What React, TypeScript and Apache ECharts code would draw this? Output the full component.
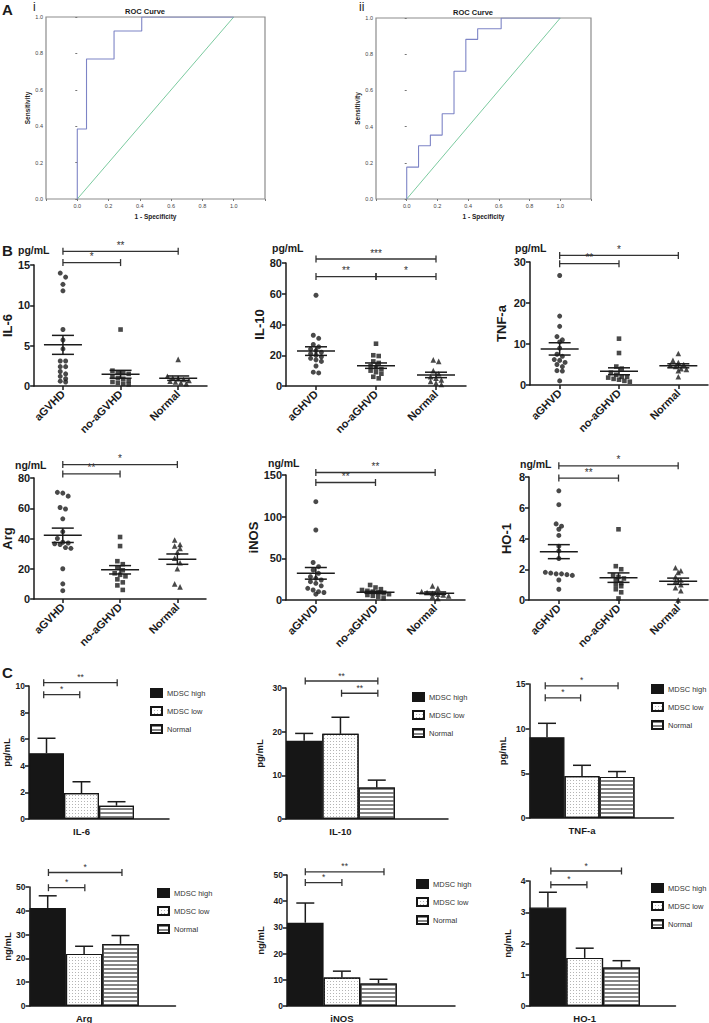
import { useEffect, useRef } from "react";
import * as echarts from "echarts";

// ---------- A: ROC curves ----------
const rocCurveI = [[0, 0], [0, 0.385], [0.059, 0.385], [0.059, 0.769], [0.235, 0.769], [0.235, 0.923], [0.412, 0.923], [0.412, 1], [1, 1]];
const rocCurveII = [[0, 0], [0, 0.176], [0.077, 0.176], [0.077, 0.294], [0.154, 0.294], [0.154, 0.353], [0.231, 0.353], [0.231, 0.471], [0.308, 0.471], [0.308, 0.706], [0.385, 0.706], [0.385, 0.882], [0.462, 0.882], [0.462, 0.941], [0.615, 0.941], [0.615, 1], [1, 1]];
const rocDiagonal = [[0, 0], [1, 1]];

// ---------- B: scatter (mean ± SEM) ----------
const catsIL6 = ["aGVHD", "no-aGVHD", "Normal"];
const catsIL10 = ["aGHVD", "no-aGHVD", "Normal"];
const catsTNF = ["aGHVD", "no-aGHVD", "Normal"];
const catsArg = ["aGVHD", "no-aGHVD", "Normal"];
const catsINOS = ["aGHVD", "no-aGHVD", "Normal"];
const catsHO1 = ["aGHVD", "no-aGHVD", "Normal"];

const il6A = [14, 13.5, 12.6, 11.8, 7, 5.7, 4.6, 3.1, 3.1, 2.4, 2.4, 1.8, 1.5, 1.2, 0.9, 0.6, 0.5];
const il6B = [7.0, 1.9, 1.7, 1.6, 1.5, 1.2, 1.0, 0.9, 0.7, 0.5, 0.4, 0.3, 0.2];
const il6N = [3.3, 1.2, 1.0, 0.9, 0.8, 0.7, 0.6, 0.5, 0.4, 0.3];

const il10A = [59, 33, 31, 27, 25.5, 24, 23, 22, 21, 20, 19, 18, 17, 16, 13, 9, 8.5];
const il10B = [27.5, 20, 19.5, 16, 15, 13, 12, 11, 10, 9, 8, 6, 5];
const il10N = [17, 16, 10, 8, 6, 5, 4, 3, 2, 1];

const tnfA = [26.7, 16.8, 14.3, 11.8, 11.0, 10.5, 9.0, 7.5, 7.0, 6.2, 6.0, 5.5, 5.0, 4.5, 3.5, 3.4, 1.0];
const tnfB = [11.3, 7.8, 4.5, 4.0, 3.0, 2.5, 2.0, 2.0, 1.8, 1.5, 1.3, 1.0, 0.8];
const tnfN = [7.7, 6.0, 5.5, 5.0, 4.8, 4.5, 4.0, 3.8, 3.5, 2.0];

const argA = [70.5, 70, 68, 60.5, 59.5, 53, 44.5, 40, 37.5, 37, 36.5, 36, 34, 33.5, 20, 10, 5.5];
const argB = [41, 35, 25, 23, 21, 19, 17, 16, 15, 13, 11, 9, 6];
const argN = [39, 36, 35, 33.5, 31, 27, 24, 20, 10, 8];

const inosA = [118, 84, 45, 40, 36, 32, 28, 26, 24, 22, 20, 17, 14, 12, 10, 9, 7];
const inosB = [18, 15, 13, 12, 11, 10, 9, 8, 7, 6, 5, 4, 2];
const inosN = [17, 14, 10, 9, 8, 7, 6, 5, 4, 2];

const ho1A = [7.1, 6.2, 4.95, 4.8, 4.6, 4.2, 3.5, 3.2, 2.7, 1.8, 1.75, 1.7, 1.7, 1.65, 1.6, 1.3, 0.7];
const ho1B = [4.6, 2.2, 2.0, 1.6, 1.5, 1.4, 1.3, 1.1, 1.0, 0.9, 0.7, 0.5, 0.1];
const ho1N = [2.1, 1.9, 1.8, 1.5, 1.3, 1.2, 1.0, 0.8, 0.6, 0.0];

// significance brackets: [fromCategory, toCategory, yValue, label]
const brIL6 = [[-0.08, 2, 16.7, "**"], [-0.08, 0.97, 15.3, "*"]];
const brIL10 = [[0, 2, 82.6, "***"], [0, 0.95, 71.2, "**"], [1.05, 2, 71.2, "*"]];
const brTNF = [[0, 2, 31.6, "*"], [0, 0.95, 29.6, "**"]];
const brArg = [[0, 1.95, 88.9, "*"], [0, 0.92, 82.7, "**"]];
const brINOS = [[0, 1.9, 153, "**"], [0, 0.9, 141, "**"]];
const brHO1 = [[0, 1.93, 8.73, "*"], [0, 0.95, 7.93, "**"]];

// ---------- C: bar charts (mean + SEM) ----------
const barSeriesNames = ["MDSC high", "MDSC low", "Normal"];
const cIL6Mean = [4.95, 1.95, 1.0];
const cIL6Sem = [1.12, 0.85, 0.3];
const cIL10Mean = [17.9, 19.5, 7.2];
const cIL10Sem = [1.7, 3.8, 1.7];
const cTNFMean = [9.05, 4.7, 4.6];
const cTNFSem = [1.55, 1.2, 0.6];
const cArgMean = [41.2, 21.9, 26.1];
const cArgSem = [5.1, 3.2, 3.5];
const cINOSMean = [31.8, 10.9, 8.6];
const cINOSSem = [7.5, 2.4, 1.6];
const cHO1Mean = [3.15, 1.54, 1.23];
const cHO1Sem = [0.49, 0.31, 0.22];

const brCIL6 = [[0.42, 2.52, 10.25, "**"], [0.42, 1.45, 9.35, "*"]];
const brCIL10 = [[0.53, 2.53, 31.6, "**"], [1.53, 2.53, 28.8, "**"]];
const brCTNF = [[0.45, 2.53, 14.8, "*"], [0.45, 1.46, 13.45, "*"]];
const brCArg = [[0.52, 2.54, 56.1, "*"], [0.52, 1.52, 49.7, "*"]];
const brCINOS = [[0.5, 2.65, 51.2, "**"], [0.5, 1.5, 47.1, "*"]];
const brCHO1 = [[0.58, 2.5, 4.32, "*"], [0.58, 1.56, 3.88, "*"]];

// ---------- styling / layout ----------
const FONT = "'Liberation Sans', Arial, Helvetica, sans-serif";
const INK = "#1b1b1b";

const rocLayout = [
  { left: 46, top: 17, width: 219, height: 182, titleX: 145 },
  { left: 376, top: 18, width: 215, height: 181, titleX: 473 },
];

const bLayout = [
  { left: 29, top: 265, width: 178, height: 121, nameGap: 15, unitX: 18, unitY: 250 },
  { left: 286, top: 263, width: 180, height: 123, nameGap: 20, unitX: 272, unitY: 248 },
  { left: 530, top: 262, width: 178, height: 123, nameGap: 22, unitX: 515, unitY: 248 },
  { left: 28, top: 478, width: 178, height: 121, nameGap: 18, unitX: 15, unitY: 465 },
  { left: 286, top: 475, width: 179, height: 125, nameGap: 21, unitX: 268, unitY: 463 },
  { left: 529, top: 477, width: 179, height: 123, nameGap: 16, unitX: 520, unitY: 464 },
];

const cLayout = [
  { left: 29, top: 686, height: 133, bw: 35, len: 140, nameGap: 16, legX: 150, legY: 688 },
  { left: 286, top: 688, height: 131, bw: 36.3, len: 162, nameGap: 22, legX: 412, legY: 692 },
  { left: 529.5, top: 684, height: 134, bw: 35, len: 144, nameGap: 22, legX: 651, legY: 684 },
  { left: 29.5, top: 887, height: 119, bw: 36.4, len: 146, nameGap: 17, legX: 157, legY: 888 },
  { left: 287, top: 875, height: 131, bw: 36.6, len: 168, nameGap: 22, legX: 416, legY: 879 },
  { left: 529.5, top: 881, height: 125, bw: 36.8, len: 146, nameGap: 17, legX: 651, legY: 883 },
];

const bPanels = [
  { name: "IL-6", unit: "pg/mL", cats: catsIL6, groups: [il6A, il6B, il6N], max: 15, interval: 5, brackets: brIL6 },
  { name: "IL-10", unit: "pg/mL", cats: catsIL10, groups: [il10A, il10B, il10N], max: 80, interval: 20, brackets: brIL10 },
  { name: "TNF-a", unit: "pg/mL", cats: catsTNF, groups: [tnfA, tnfB, tnfN], max: 30, interval: 10, brackets: brTNF },
  { name: "Arg", unit: "ng/mL", cats: catsArg, groups: [argA, argB, argN], max: 80, interval: 20, brackets: brArg },
  { name: "iNOS", unit: "ng/mL", cats: catsINOS, groups: [inosA, inosB, inosN], max: 150, interval: 50, brackets: brINOS },
  { name: "HO-1", unit: "ng/mL", cats: catsHO1, groups: [ho1A, ho1B, ho1N], max: 8, interval: 2, brackets: brHO1 },
];

const cPanels = [
  { name: "IL-6", unit: "pg/mL", mean: cIL6Mean, sem: cIL6Sem, max: 10, interval: 2, brackets: brCIL6 },
  { name: "IL-10", unit: "pg/mL", mean: cIL10Mean, sem: cIL10Sem, max: 30, interval: 10, brackets: brCIL10 },
  { name: "TNF-a", unit: "pg/mL", mean: cTNFMean, sem: cTNFSem, max: 15, interval: 5, brackets: brCTNF },
  { name: "Arg", unit: "ng/mL", mean: cArgMean, sem: cArgSem, max: 50, interval: 10, brackets: brCArg },
  { name: "iNOS", unit: "ng/mL", mean: cINOSMean, sem: cINOSSem, max: 50, interval: 10, brackets: brCINOS },
  { name: "HO-1", unit: "ng/mL", mean: cHO1Mean, sem: cHO1Sem, max: 4, interval: 1, brackets: brCHO1 },
];

const barStyles = [
  { color: "#161616", borderColor: "#161616", borderWidth: 1.2 },
  {
    color: "#ffffff", borderColor: "#161616", borderWidth: 1.2,
    decal: { symbol: "rect", symbolSize: 1, dashArrayX: [1, 1.5], dashArrayY: [1, 1.5], color: "#b4b4b4", rotation: 0 },
  },
  {
    color: "#ffffff", borderColor: "#161616", borderWidth: 1.2,
    decal: { symbol: "rect", symbolSize: 1, dashArrayX: [1, 0], dashArrayY: [1.5, 1.5], color: "#858585", rotation: 0 },
  },
];

function meanOf(v: number[]) {
  return v.reduce((a, b) => a + b, 0) / v.length;
}
function semOf(v: number[]) {
  const m = meanOf(v);
  const ss = v.reduce((a, b) => a + (b - m) * (b - m), 0);
  return Math.sqrt(ss / (v.length - 1)) / Math.sqrt(v.length);
}

// GraphPad-like scatter: points closer than one symbol are spread out in centred rows
function swarmOffsets(values: number[], pxPerUnit: number, d: number) {
  const order = values.map((_, i) => i).sort((a, b) => values[b] - values[a]);
  const off = new Array(values.length).fill(0);
  let row: number[] = [];
  let rowTop = 0;
  const flush = () => {
    row.forEach((idx, j) => {
      off[idx] = (j - (row.length - 1) / 2) * d;
    });
    row = [];
  };
  for (const i of order) {
    const y = values[i] * pxPerUnit;
    if (row.length && rowTop - y >= d * 0.85) flush();
    if (!row.length) rowTop = y;
    row.push(i);
  }
  flush();
  return off;
}

function textEl(x: number, y: number, text: string, size: number, weight: string, align = "left") {
  return {
    type: "text",
    x,
    y,
    style: {
      text,
      fontSize: size,
      fontWeight: weight,
      fontFamily: FONT,
      fill: INK,
      align,
      verticalAlign: "middle",
    },
  };
}

function bracketSeries(br: any[], gi: number, fontSize: number) {
  return {
    type: "custom",
    xAxisIndex: gi,
    yAxisIndex: gi,
    clip: false,
    silent: true,
    z: 5,
    itemStyle: { color: "#333333" },
    data: br.map((b) => [b[0], b[2], b[1]]),
    renderItem: (params: any, api: any) => {
      const b = br[params.dataIndex];
      const p1 = api.coord([b[0], b[2]]);
      const p2 = api.coord([b[1], b[2]]);
      const st = { stroke: "#333333", lineWidth: 1.3 };
      return {
        type: "group",
        children: [
          { type: "line", shape: { x1: p1[0], y1: p1[1], x2: p2[0], y2: p2[1] }, style: st },
          { type: "line", shape: { x1: p1[0], y1: p1[1] - 3.5, x2: p1[0], y2: p1[1] + 3.5 }, style: st },
          { type: "line", shape: { x1: p2[0], y1: p2[1] - 3.5, x2: p2[0], y2: p2[1] + 3.5 }, style: st },
          {
            type: "text",
            x: (p1[0] + p2[0]) / 2,
            y: p1[1] - 1,
            style: {
              text: b[3], fontSize, fontFamily: FONT, fill: "#333333", textFill: "#333333",
              align: "center", verticalAlign: "bottom",
            },
          },
        ],
      };
    },
  };
}

function buildOption() {
  const grid: any[] = [];
  const xAxis: any[] = [];
  const yAxis: any[] = [];
  const series: any[] = [];
  const legend: any[] = [];
  const graphic: any[] = [];

  // ---- A ----
  [rocCurveI, rocCurveII].forEach((curve, k) => {
    const L = rocLayout[k];
    grid.push({ left: L.left, top: L.top, width: L.width, height: L.height, show: true, borderColor: "#8c8c8c", borderWidth: 1.2 });
    const gi = grid.length - 1;
    const small = { fontSize: 5.5, color: "#444", fontFamily: FONT };
    xAxis.push({
      gridIndex: gi, type: "value", min: -0.2, max: 1.2, interval: 0.2,
      axisLine: { show: false }, splitLine: { show: false },
      axisTick: { show: true, length: 2, lineStyle: { color: "#777" } },
      axisLabel: { ...small, margin: 4, formatter: (v: number) => (v < -0.01 || v > 1.01 ? "" : v.toFixed(1)) },
      name: "1 - Specificity", nameLocation: "middle", nameGap: 14,
      nameTextStyle: { fontSize: 6.5, fontWeight: "bold", color: "#222", fontFamily: FONT },
    });
    yAxis.push({
      gridIndex: gi, type: "value", min: 0, max: 1, interval: 0.2,
      axisLine: { show: false }, splitLine: { show: false },
      axisTick: { show: true, length: 2, lineStyle: { color: "#777" } },
      axisLabel: { ...small, margin: 3, formatter: (v: number) => v.toFixed(1) },
      name: "Sensitivity", nameLocation: "middle", nameGap: 14, nameRotate: 90,
      nameTextStyle: { fontSize: 6.5, fontWeight: "bold", color: "#222", fontFamily: FONT },
    });
    series.push({
      type: "line", xAxisIndex: gi, yAxisIndex: gi, data: rocDiagonal, showSymbol: false, silent: true,
      lineStyle: { color: "#6cc494", width: 0.9 },
    });
    series.push({
      type: "line", xAxisIndex: gi, yAxisIndex: gi, data: curve, showSymbol: false, silent: true,
      lineStyle: { color: "#7d84c6", width: 1.1 },
    });
    graphic.push(textEl(L.titleX, L.top - 6, "ROC Curve", 7.5, "bold", "center"));
  });
  graphic.push(textEl(2, 9, "A", 15, "bold"));
  graphic.push(textEl(33, 7, "i", 12, "normal"));
  graphic.push(textEl(359, 7, "ii", 12, "normal"));

  // ---- B ----
  const symbols = ["circle", "rect", "triangle"];
  const symSizes = [5, 4.6, 5.6];
  bPanels.forEach((p, k) => {
    const L = bLayout[k];
    grid.push({ left: L.left, top: L.top, width: L.width, height: L.height });
    const gi = grid.length - 1;
    xAxis.push({
      gridIndex: gi, type: "category", data: p.cats, boundaryGap: true,
      axisLine: { show: true, lineStyle: { color: INK, width: 1.5 } },
      axisTick: { show: true, alignWithLabel: true, length: 4, lineStyle: { color: INK, width: 1.5 } },
      axisLabel: { rotate: 45, fontSize: 11, fontWeight: "bold", color: INK, fontFamily: FONT, margin: 6, interval: 0 },
      splitLine: { show: false },
    });
    yAxis.push({
      gridIndex: gi, type: "value", min: 0, max: p.max, interval: p.interval,
      axisLine: { show: true, lineStyle: { color: INK, width: 1.5 } },
      axisTick: { show: true, length: 4, lineStyle: { color: INK, width: 1.5 } },
      axisLabel: { fontSize: 11, fontWeight: "bold", color: INK, fontFamily: FONT, margin: 4 },
      splitLine: { show: false },
      name: p.name, nameLocation: "middle", nameRotate: 90, nameGap: L.nameGap,
      nameTextStyle: { fontSize: 13, fontWeight: "bold", color: INK, fontFamily: FONT },
    });
    const pxPerUnit = L.height / p.max;
    p.groups.forEach((vals, g) => {
      const off = swarmOffsets(vals, pxPerUnit, 5.4);
      series.push({
        name: `${p.name}-group-${g}`,
        type: "scatter", xAxisIndex: gi, yAxisIndex: gi, silent: true,
        symbol: symbols[g], symbolSize: symSizes[g],
        itemStyle: { color: INK },
        data: vals.map((v, i) => ({ value: [g, v], symbolOffset: [off[i], 0] })),
        z: 3,
      });
    });
    const stats = p.groups.map((vals, g) => [g, meanOf(vals), semOf(vals)]);
    series.push({
      type: "custom", xAxisIndex: gi, yAxisIndex: gi, clip: false, silent: true, z: 4,
      itemStyle: { color: INK },
      data: stats,
      renderItem: (params: any, api: any) => {
        const c = api.value(0);
        const m = api.value(1);
        const s = api.value(2);
        const pm = api.coord([c, m]);
        const pt = api.coord([c, m + s]);
        const pb = api.coord([c, Math.max(0, m - s)]);
        const st = { stroke: INK, lineWidth: 1.5 };
        return {
          type: "group",
          children: [
            { type: "line", shape: { x1: pm[0] - 19, y1: pm[1], x2: pm[0] + 19, y2: pm[1] }, style: st },
            { type: "line", shape: { x1: pt[0] - 11, y1: pt[1], x2: pt[0] + 11, y2: pt[1] }, style: st },
            { type: "line", shape: { x1: pb[0] - 11, y1: pb[1], x2: pb[0] + 11, y2: pb[1] }, style: st },
            { type: "line", shape: { x1: pt[0], y1: pt[1], x2: pb[0], y2: pb[1] }, style: st },
          ],
        };
      },
    });
    series.push(bracketSeries(p.brackets, gi, 10));
    graphic.push(textEl(L.unitX, L.unitY, p.unit, 10.5, "bold"));
  });
  graphic.push(textEl(2, 250, "B", 15, "bold"));

  // ---- C ----
  cPanels.forEach((p, k) => {
    const L = cLayout[k];
    const xMax = L.len / L.bw;
    grid.push({ left: L.left, top: L.top, width: L.len, height: L.height });
    const gi = grid.length - 1;
    xAxis.push({
      gridIndex: gi, type: "value", min: 0, max: xMax, interval: 0.5,
      axisLine: { show: true, lineStyle: { color: INK, width: 1.5 } },
      axisTick: { show: false },
      axisLabel: {
        fontSize: 9.5, fontWeight: "bold", color: INK, fontFamily: FONT, margin: 7,
        showMinLabel: false, showMaxLabel: false,
        formatter: (v: number) => (Math.abs(v - 1.5) < 1e-6 ? p.name : ""),
      },
      splitLine: { show: false },
    });
    yAxis.push({
      gridIndex: gi, type: "value", min: 0, max: p.max, interval: p.interval,
      axisLine: { show: true, lineStyle: { color: INK, width: 1.5 } },
      axisTick: { show: true, length: 4, lineStyle: { color: INK, width: 1.5 } },
      axisLabel: { fontSize: 8.5, fontWeight: "bold", color: INK, fontFamily: FONT, margin: 4 },
      splitLine: { show: false },
      name: p.unit, nameLocation: "middle", nameRotate: 90, nameGap: L.nameGap,
      nameTextStyle: { fontSize: 9.5, fontWeight: "bold", color: INK, fontFamily: FONT },
    });
    barSeriesNames.forEach((nm, s) => {
      series.push({
        name: nm, type: "bar", xAxisIndex: gi, yAxisIndex: gi, silent: true,
        barWidth: L.bw, barGap: "-100%",
        itemStyle: barStyles[s],
        data: [[s + 0.5, p.mean[s]]],
        z: 2,
      });
    });
    series.push({
      type: "custom", xAxisIndex: gi, yAxisIndex: gi, clip: false, silent: true, z: 4,
      itemStyle: { color: INK },
      data: p.mean.map((m, s) => [s + 0.5, m, p.sem[s]]),
      renderItem: (params: any, api: any) => {
        const c = api.value(0);
        const m = api.value(1);
        const s = api.value(2);
        const pm = api.coord([c, m]);
        const pt = api.coord([c, m + s]);
        const st = { stroke: INK, lineWidth: 1.5 };
        return {
          type: "group",
          children: [
            { type: "line", shape: { x1: pm[0], y1: pm[1], x2: pt[0], y2: pt[1] }, style: st },
            { type: "line", shape: { x1: pt[0] - 9, y1: pt[1], x2: pt[0] + 9, y2: pt[1] }, style: st },
          ],
        };
      },
    });
    series.push(bracketSeries(p.brackets, gi, 8.5));
    legend.push({
      data: barSeriesNames, orient: "vertical", left: L.legX, top: L.legY, padding: 0,
      itemWidth: 11, itemHeight: 8, itemGap: 8, selectedMode: false, icon: "rect",
      textStyle: { fontSize: 7.5, color: "#333", fontFamily: FONT },
    });
  });
  graphic.push(textEl(2, 672, "C", 15, "bold"));

  return { animation: false, backgroundColor: "#ffffff", grid, xAxis, yAxis, series, legend, graphic };
}

export default function App() {
  const ref = useRef<HTMLDivElement>(null);
  useEffect(() => {
    if (!ref.current) return;
    const chart = echarts.init(ref.current, undefined, { renderer: "svg" });
    chart.setOption(buildOption() as any);
    return () => chart.dispose();
  }, []);
  return <div ref={ref} style={{ position: "absolute", left: 0, top: 0, width: 709, height: 1023, background: "#fff" }} />;
}
